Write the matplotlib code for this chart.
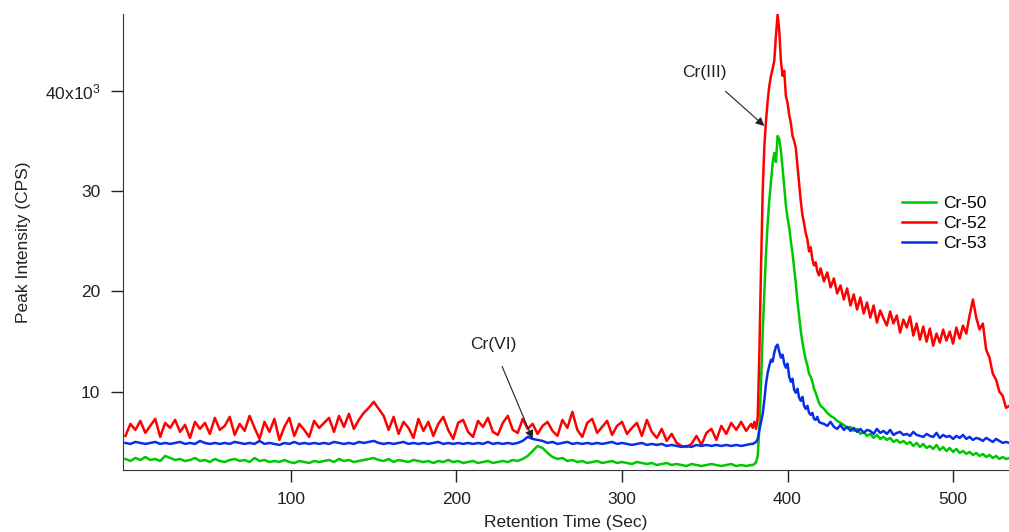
import matplotlib
matplotlib.use("Agg")
import matplotlib.pyplot as plt

plt.rcParams['font.family'] = ['Liberation Sans', 'DejaVu Sans']
plt.rcParams['mathtext.default'] = 'regular'

# retention time (s): coarse baseline, fine peak region, medium tail
t = list(range(0, 379, 3)) + list(range(379, 421)) + list(range(422, 535, 2))

# intensities in units of 10^3 CPS
cr52 = [
    5.6, 6.8, 6.2, 7.1, 5.9, 6.6, 7.3, 5.5, 6.9, 6.4,
    7.2, 6.0, 6.7, 5.4, 7.0, 6.3, 6.9, 5.8, 7.4, 6.2,
    6.6, 7.5, 5.7, 6.8, 6.1, 7.6, 6.4, 5.3, 7.0, 6.0,
    7.3, 5.2, 6.5, 7.4, 5.6, 6.8, 6.2, 5.5, 7.1, 6.4,
    6.9, 7.4, 6.0, 7.6, 6.5, 7.8, 6.3, 7.2, 7.9, 8.4,
    9.0, 8.3, 7.6, 6.2, 7.5, 5.8, 7.0, 6.4, 5.4, 7.3,
    6.1, 7.0, 5.6, 6.8, 7.5, 6.2, 5.3, 6.9, 7.2, 6.0,
    5.5, 7.1, 6.5, 7.4, 6.0, 5.7, 6.9, 7.6, 6.2, 5.9,
    7.3, 6.3, 6.8, 5.8, 6.6, 7.0, 6.1, 5.6, 7.2, 6.4,
    8.0, 6.2, 5.5, 6.9, 7.3, 5.9, 6.5, 7.1, 5.7, 6.6,
    7.0, 5.8, 6.4, 6.9, 5.6, 7.2, 6.0, 5.4, 6.3, 5.1,
    5.8, 4.9, 4.6, 4.5, 4.8, 5.6, 4.7, 5.9, 6.3, 5.2,
    6.6, 5.8, 6.9, 6.2, 7.0, 6.1, 6.8,
    6.4, 7.0, 6.3, 7.5, 14.0, 22.5, 30.0, 34.5, 37.0, 39.0,
    40.5, 41.5, 42.2, 43.0, 45.5, 47.6, 46.0, 43.0, 41.5, 42.0,
    39.5, 38.8, 37.6, 36.8, 35.5, 35.0, 34.3, 32.5, 30.6, 29.0,
    27.6, 26.8, 25.8, 25.2, 24.0, 24.4, 23.2, 22.6, 22.9, 22.0,
    21.6, 22.3,
    21.0, 21.9, 20.4, 21.3, 19.8, 20.6, 19.2, 20.3, 18.6, 19.7,
    18.2, 19.4, 17.8, 18.9, 17.4, 18.6, 16.9, 18.1, 17.3, 16.6,
    18.0, 16.8, 17.6, 15.9, 17.2, 16.4, 17.5, 15.6, 16.8, 15.2,
    16.5, 15.0, 16.3, 14.6, 15.8, 14.9, 16.2, 15.1, 16.0, 14.8,
    16.4, 15.3, 16.6, 15.8, 17.6, 19.2, 17.4, 16.2, 16.8, 14.2,
    13.4, 11.8, 11.2, 10.0, 9.6, 8.4, 8.6,
]

cr53 = [
    4.9, 4.8, 5.0, 4.9, 4.8, 4.9, 5.0, 4.8, 4.9, 4.8,
    4.9, 5.0, 4.8, 4.9, 4.8, 5.1, 4.9, 4.8, 4.9, 4.8,
    4.9, 4.8, 5.0, 4.9, 4.8, 4.9, 4.8, 5.1, 4.8, 4.9,
    4.8, 4.7, 4.9, 4.8, 5.0, 4.8, 4.9, 4.8, 4.9, 4.8,
    4.9, 4.8, 5.0, 4.9, 4.8, 4.9, 4.8, 5.0, 4.9, 5.0,
    5.1, 4.9, 4.8, 4.9, 4.8, 4.9, 5.0, 4.8, 4.9, 4.8,
    4.9, 4.8, 4.9, 5.0, 4.8, 4.9, 4.8, 4.9, 4.8, 4.9,
    4.8, 4.9, 4.8, 5.0, 4.8, 4.9, 4.8, 4.9, 4.8, 4.9,
    5.1, 5.5, 5.3, 5.2, 5.1, 4.9, 5.0, 4.8, 4.9, 5.0,
    4.8, 4.9, 4.8, 4.9, 4.8, 4.9, 4.8, 4.9, 5.0, 4.8,
    4.9, 4.8, 4.7, 4.8, 4.9, 4.7, 4.8, 4.7, 4.8, 4.6,
    4.7, 4.6, 4.5, 4.6, 4.5, 4.7, 4.6, 4.7, 4.6, 4.7,
    4.6, 4.7, 4.6, 4.7, 4.6, 4.7, 4.8,
    4.8, 4.9, 5.0, 5.3, 6.2, 7.0, 7.8, 9.2, 10.8, 11.9,
    12.6, 13.2, 13.0, 13.9, 14.5, 14.7, 14.0, 13.4, 13.7, 12.8,
    12.4, 12.8, 11.5, 11.0, 11.3, 10.2, 9.9, 10.3, 9.4, 9.1,
    9.5, 8.6, 8.3, 8.6, 7.9, 7.7, 7.9, 7.3, 7.2, 7.5,
    7.0, 6.9,
    6.8, 6.6, 7.0, 6.5, 6.3, 6.7, 6.2, 6.5, 6.1, 6.4,
    6.0, 6.3, 5.9, 6.2, 6.1, 5.8, 6.3, 5.9, 6.1, 5.8,
    6.2, 5.7, 5.9, 6.0, 5.7, 5.8, 5.6, 6.0, 5.7, 5.6,
    5.5, 5.8, 5.6, 5.5, 5.9, 5.4, 5.7, 5.5, 5.6, 5.3,
    5.6, 5.4, 5.7, 5.3, 5.5, 5.2, 5.4, 5.3, 5.1, 5.4,
    5.2, 5.0, 5.3, 5.1, 4.9, 5.0, 4.9,
]

cr50 = [
    3.3, 3.1, 3.4, 3.2, 3.5, 3.2, 3.3, 3.1, 3.6, 3.4,
    3.2, 3.3, 3.1, 3.2, 3.4, 3.1, 3.2, 3.0, 3.3, 3.1,
    3.0, 3.2, 3.3, 3.1, 3.2, 3.0, 3.4, 3.1, 3.2, 3.0,
    3.1, 3.0, 3.2, 3.0, 2.9, 3.1, 3.0, 2.9, 3.1, 3.0,
    3.1, 3.2, 3.0, 3.3, 3.1, 3.2, 3.0, 3.1, 3.2, 3.3,
    3.4, 3.2, 3.1, 3.3, 3.0, 3.2, 3.1, 3.0, 3.2, 3.1,
    3.0, 3.1, 2.9, 3.1, 3.0, 3.2, 3.0, 3.1, 2.9, 3.0,
    3.1, 2.9, 3.0, 3.1, 2.9, 3.0, 3.1, 3.0, 3.2, 3.1,
    3.3, 3.6, 4.1, 4.6, 4.4, 3.9, 3.5, 3.3, 3.4, 3.1,
    3.2, 3.0, 3.1, 2.9, 3.0, 3.1, 2.9, 3.0, 3.1, 2.9,
    3.0, 2.9, 2.8, 3.0, 2.9, 2.8, 2.9, 2.7, 2.8, 2.9,
    2.7, 2.8, 2.7, 2.6, 2.8, 2.7, 2.6, 2.7, 2.8, 2.7,
    2.6, 2.7, 2.8, 2.6, 2.7, 2.6, 2.7,
    2.7, 2.8, 3.0, 3.6, 6.5, 11.0, 15.9, 20.0, 23.8, 26.8,
    29.1, 31.0, 32.8, 33.8, 32.9, 35.5, 35.2, 34.0, 32.3, 30.4,
    28.6, 27.3, 26.4, 25.0, 23.8, 22.3, 20.8, 19.0, 17.5, 16.1,
    14.9, 14.0, 13.2, 12.6, 11.8, 11.5, 11.0, 10.3, 9.9, 9.4,
    8.9, 8.6,
    8.3, 7.9, 7.6, 7.4, 7.1, 6.9, 6.7, 6.4, 6.5, 6.1,
    6.3, 5.8, 6.0, 5.6, 5.8, 5.4, 5.7, 5.3, 5.5, 5.2,
    5.4, 5.0, 5.2, 4.9, 5.1, 4.8, 5.0, 4.6, 4.9, 4.5,
    4.8, 4.4, 4.6, 4.3, 4.7, 4.2, 4.5, 4.1, 4.4, 4.0,
    4.3, 3.9, 4.1, 3.8, 4.0, 3.7, 3.9, 3.6, 3.8, 3.5,
    3.7, 3.4, 3.6, 3.3, 3.5, 3.3, 3.4,
]

yticks = [10, 20, 30, 40]
ytick_labels = ['10', '20', '30', '40x10$^{3}$']
xticks = [100, 200, 300, 400, 500]

fs = 12.5
fig = plt.figure(figsize=(10.09, 5.32), dpi=100)
ax = fig.add_axes([0.1222, 0.1165, 0.8778, 0.858])

ax.plot(t, cr50, color='#00c800', lw=1.8, label='Cr-50')
ax.plot(t, cr52, color='#ff0000', lw=1.8, label='Cr-52')
ax.plot(t, cr53, color='#0a2ee8', lw=1.8, label='Cr-53')

ax.set_xlim(-1.3, 533.8)
ax.set_ylim(2.2, 47.7)
ax.set_xticks(xticks)
ax.set_yticks(yticks)
ax.set_yticklabels(ytick_labels)
ax.tick_params(direction='out', length=8.5, width=1, labelsize=fs, colors='#222222')
ax.tick_params(axis='x', pad=7)
ax.tick_params(axis='y', pad=8)

for s in ['top', 'right']:
    ax.spines[s].set_visible(False)
for s in ['left', 'bottom']:
    ax.spines[s].set_color('#333333')

ax.set_xlabel('Retention Time (Sec)', fontsize=fs, color='#222222', labelpad=6)
ax.set_ylabel('Peak Intensity (CPS)', fontsize=fs, color='#222222')
ax.yaxis.set_label_coords(-0.104, 0.5)

ax.annotate('Cr(III)', xy=(386, 36.5), xytext=(350, 41.8), ha='center', va='center',
            fontsize=fs, color='#222222',
            arrowprops=dict(arrowstyle='-|>', color='#222222', lw=0.8, shrinkA=9, shrinkB=0))
ax.annotate('Cr(VI)', xy=(246, 5.3), xytext=(222, 14.7), ha='center', va='center',
            fontsize=fs, color='#222222',
            arrowprops=dict(arrowstyle='-|>', color='#222222', lw=0.8, shrinkA=9, shrinkB=0))

ax.legend(loc='upper left', bbox_to_anchor=(0.869, 0.62), frameon=False, fontsize=fs,
          handlelength=2.0, handletextpad=0.4, labelspacing=0.28, borderpad=0)

fig.savefig('out.png', dpi=100)
